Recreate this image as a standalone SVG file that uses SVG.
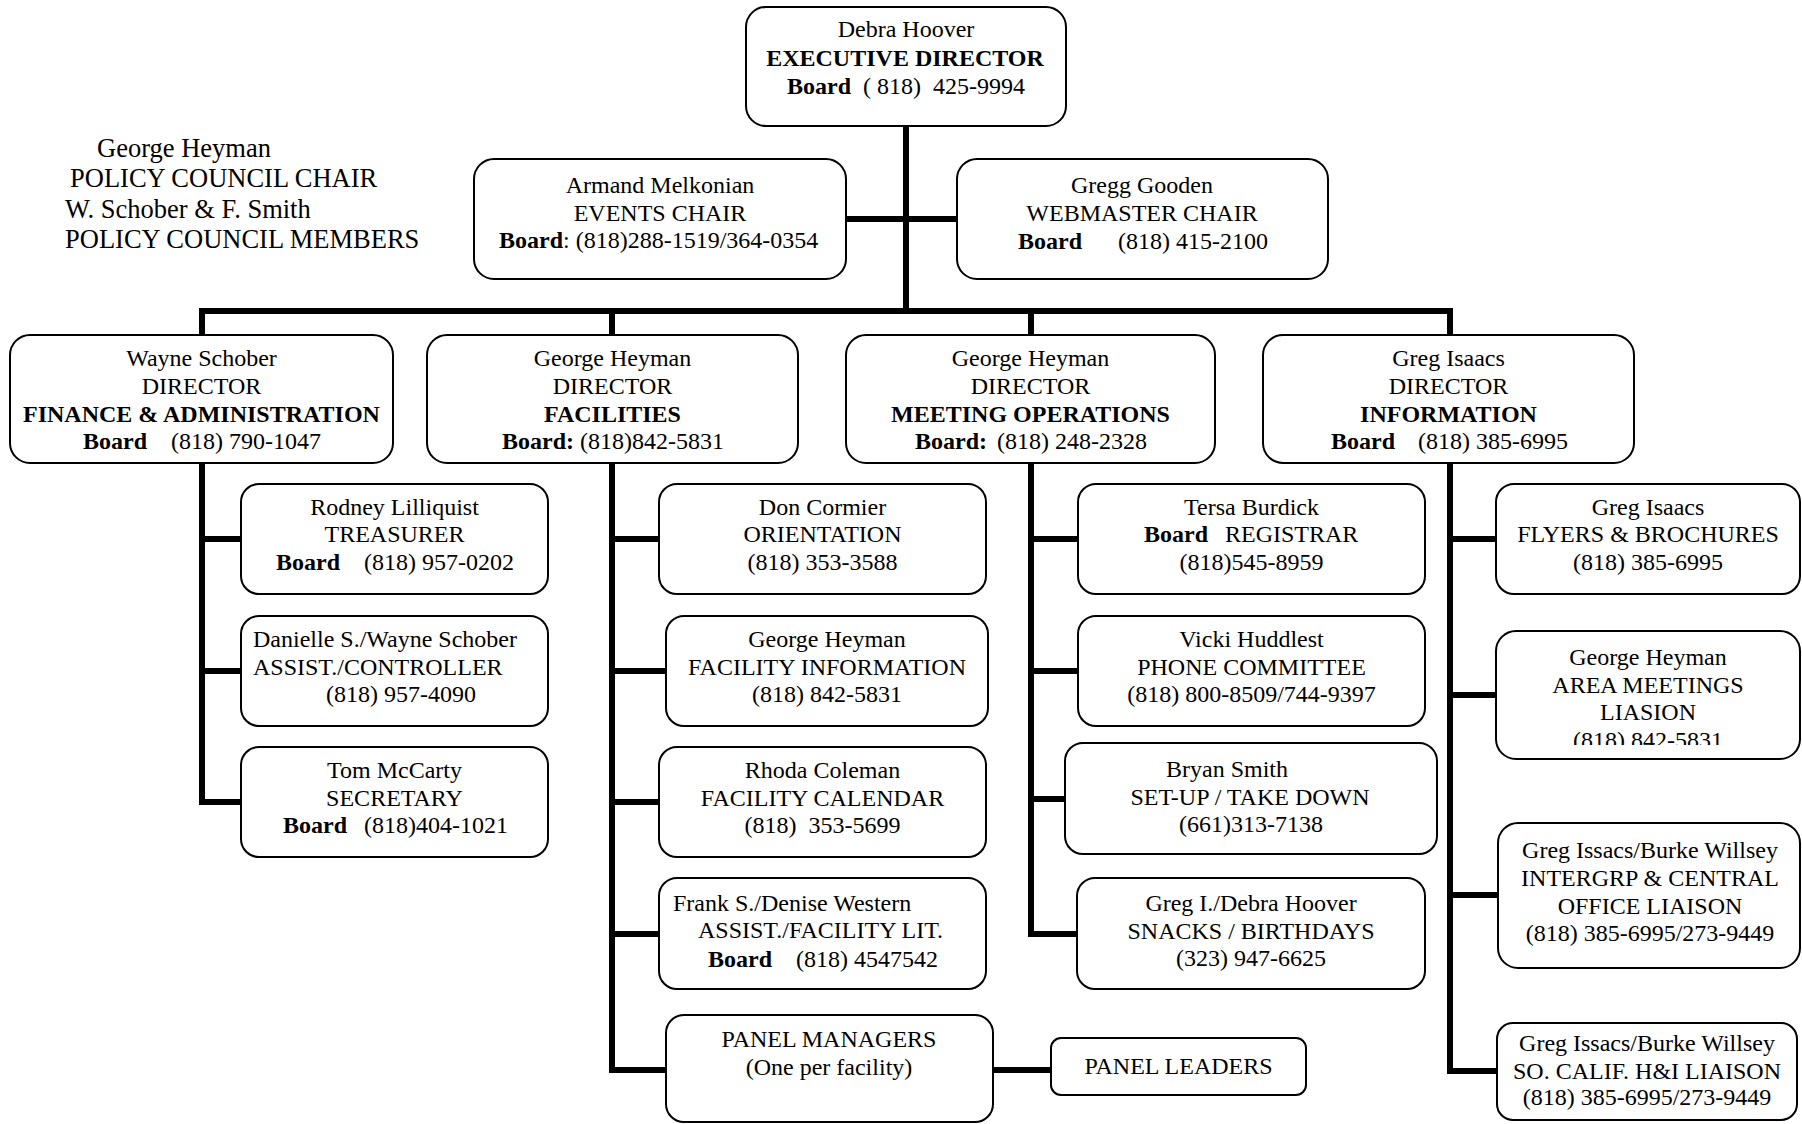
<svg xmlns="http://www.w3.org/2000/svg" width="1802" height="1124" viewBox="0 0 1802 1124">
<style>
text{font-family:"Liberation Serif","Times New Roman",serif;font-size:24px;fill:#000;white-space:pre}
.c{text-anchor:middle}
.b{font-weight:bold}
.lt{font-size:26.5px}
.box{fill:#fff;stroke:#000;stroke-width:2}
.conn{fill:none;stroke:#000;stroke-width:6;stroke-linejoin:miter;stroke-linecap:butt}
</style>
<defs>
<clipPath id="clipArea"><rect x="1496" y="631" width="306" height="114"/></clipPath>
</defs>

<g id="policy-council">
<text class="lt" x="97" y="157">George Heyman</text>
<text class="lt" x="70" y="187">POLICY COUNCIL CHAIR</text>
<text class="lt" x="65" y="218">W. Schober &amp; F. Smith</text>
<text class="lt" x="65" y="248">POLICY COUNCIL MEMBERS</text>
</g>

<g id="connectors">
<path class="conn" d="M906 126 V311"/>
<path class="conn" d="M846 219 H957"/>
<path class="conn" d="M202 335 V311 H1450 V335"/>
<path class="conn" d="M612 311 V335"/>
<path class="conn" d="M1031 311 V335"/>
<path class="conn" d="M202 463 V802 H241"/>
<path class="conn" d="M202 539 H241"/>
<path class="conn" d="M202 671 H241"/>
<path class="conn" d="M612 463 V1070 H666"/>
<path class="conn" d="M612 539 H659"/>
<path class="conn" d="M612 671 H666"/>
<path class="conn" d="M612 802 H659"/>
<path class="conn" d="M612 934 H659"/>
<path class="conn" d="M1031 463 V934 H1077"/>
<path class="conn" d="M1031 539 H1078"/>
<path class="conn" d="M1031 671 H1078"/>
<path class="conn" d="M1031 799 H1065"/>
<path class="conn" d="M1450 463 V1071 H1497"/>
<path class="conn" d="M1450 539 H1496"/>
<path class="conn" d="M1450 695 H1496"/>
<path class="conn" d="M1450 895 H1498"/>
<path class="conn" d="M993 1070 H1051"/>
</g>

<g id="executive-director">
<rect class="box" x="746" y="7" width="320" height="119" rx="20"/>
<text class="c" x="906" y="37">Debra Hoover</text>
<text class="c b" x="905" y="66">EXECUTIVE DIRECTOR</text>
<text y="94"><tspan class="b" x="787">Board</tspan><tspan x="863">( 818)  425-9994</tspan></text>
</g>

<g id="events-chair">
<rect class="box" x="474" y="159" width="372" height="120" rx="20"/>
<text class="c" x="660" y="193">Armand Melkonian</text>
<text class="c" x="660" y="221">EVENTS CHAIR</text>
<text x="499" y="248"><tspan class="b">Board</tspan>: (818)288-1519/364-0354</text>
</g>

<g id="webmaster-chair">
<rect class="box" x="957" y="159" width="371" height="120" rx="20"/>
<text class="c" x="1142" y="193">Gregg Gooden</text>
<text class="c" x="1142" y="221">WEBMASTER CHAIR</text>
<text y="249"><tspan class="b" x="1018">Board</tspan><tspan x="1118">(818) 415-2100</tspan></text>
</g>

<g id="director-finance">
<rect class="box" x="10" y="335" width="383" height="128" rx="20"/>
<text class="c" x="201.5" y="366">Wayne Schober</text>
<text class="c" x="201.5" y="394">DIRECTOR</text>
<text class="c b" x="201.5" y="422">FINANCE &amp; ADMINISTRATION</text>
<text y="449"><tspan class="b" x="83">Board</tspan><tspan x="171">(818) 790-1047</tspan></text>
</g>

<g id="director-facilities">
<rect class="box" x="427" y="335" width="371" height="128" rx="20"/>
<text class="c" x="612.5" y="366">George Heyman</text>
<text class="c" x="612.5" y="394">DIRECTOR</text>
<text class="c b" x="612.5" y="422">FACILITIES</text>
<text y="449"><tspan class="b" x="502">Board:</tspan><tspan x="580">(818)842-5831</tspan></text>
</g>

<g id="director-meetings">
<rect class="box" x="846" y="335" width="369" height="128" rx="20"/>
<text class="c" x="1030.5" y="366">George Heyman</text>
<text class="c" x="1030.5" y="394">DIRECTOR</text>
<text class="c b" x="1030.5" y="422">MEETING OPERATIONS</text>
<text y="449"><tspan class="b" x="915">Board:</tspan><tspan x="997">(818) 248-2328</tspan></text>
</g>

<g id="director-information">
<rect class="box" x="1263" y="335" width="371" height="128" rx="20"/>
<text class="c" x="1448.5" y="366">Greg Isaacs</text>
<text class="c" x="1448.5" y="394">DIRECTOR</text>
<text class="c b" x="1448.5" y="422">INFORMATION</text>
<text y="449"><tspan class="b" x="1331">Board</tspan><tspan x="1418">(818) 385-6995</tspan></text>
</g>

<g id="treasurer">
<rect class="box" x="241" y="484" width="307" height="110" rx="18"/>
<text class="c" x="394.5" y="515">Rodney Lilliquist</text>
<text class="c" x="394.5" y="542">TREASURER</text>
<text y="570"><tspan class="b" x="276">Board</tspan><tspan x="364">(818) 957-0202</tspan></text>
</g>

<g id="controller">
<rect class="box" x="241" y="616" width="307" height="110" rx="18"/>
<text x="253" y="647">Danielle S./Wayne Schober</text>
<text x="253" y="675">ASSIST./CONTROLLER</text>
<text x="326" y="702">(818) 957-4090</text>
</g>

<g id="secretary">
<rect class="box" x="241" y="747" width="307" height="110" rx="18"/>
<text class="c" x="394.5" y="778">Tom McCarty</text>
<text class="c" x="394.5" y="806">SECRETARY</text>
<text y="833"><tspan class="b" x="283">Board</tspan><tspan x="364">(818)404-1021</tspan></text>
</g>

<g id="orientation">
<rect class="box" x="659" y="484" width="327" height="110" rx="18"/>
<text class="c" x="822.5" y="515">Don Cormier</text>
<text class="c" x="822.5" y="542">ORIENTATION</text>
<text class="c" x="822.5" y="570">(818) 353-3588</text>
</g>

<g id="facility-information">
<rect class="box" x="666" y="616" width="322" height="110" rx="18"/>
<text class="c" x="827" y="647">George Heyman</text>
<text class="c" x="827" y="675">FACILITY INFORMATION</text>
<text class="c" x="827" y="702">(818) 842-5831</text>
</g>

<g id="facility-calendar">
<rect class="box" x="659" y="747" width="327" height="110" rx="18"/>
<text class="c" x="822.5" y="778">Rhoda Coleman</text>
<text class="c" x="822.5" y="806">FACILITY CALENDAR</text>
<text class="c" x="822.5" y="833">(818)  353-5699</text>
</g>

<g id="facility-lit">
<rect class="box" x="659" y="878" width="327" height="111" rx="18"/>
<text x="673" y="911">Frank S./Denise Western</text>
<text x="698" y="938">ASSIST./FACILITY LIT.</text>
<text y="967"><tspan class="b" x="708">Board</tspan><tspan x="796">(818) 4547542</tspan></text>
</g>

<g id="panel-managers">
<rect class="box" x="666" y="1015" width="327" height="107" rx="18"/>
<text class="c" x="829" y="1047">PANEL MANAGERS</text>
<text class="c" x="829" y="1075">(One per facility)</text>
</g>

<g id="panel-leaders">
<rect class="box" x="1051" y="1038" width="255" height="57" rx="10"/>
<text class="c" x="1178.5" y="1074">PANEL LEADERS</text>
</g>

<g id="registrar">
<rect class="box" x="1078" y="484" width="347" height="110" rx="18"/>
<text class="c" x="1251.5" y="515">Tersa Burdick</text>
<text y="542"><tspan class="b" x="1144">Board</tspan><tspan x="1225">REGISTRAR</tspan></text>
<text class="c" x="1251.5" y="570">(818)545-8959</text>
</g>

<g id="phone-committee">
<rect class="box" x="1078" y="616" width="347" height="110" rx="18"/>
<text class="c" x="1251.5" y="647">Vicki Huddlest</text>
<text class="c" x="1251.5" y="675">PHONE COMMITTEE</text>
<text class="c" x="1251.5" y="702">(818) 800-8509/744-9397</text>
</g>

<g id="setup-takedown">
<rect class="box" x="1065" y="743" width="372" height="111" rx="18"/>
<text x="1166" y="777">Bryan Smith</text>
<text class="c" x="1250" y="805">SET-UP / TAKE DOWN</text>
<text class="c" x="1251" y="832">(661)313-7138</text>
</g>

<g id="snacks-birthdays">
<rect class="box" x="1077" y="878" width="348" height="111" rx="18"/>
<text class="c" x="1251" y="911">Greg I./Debra Hoover</text>
<text class="c" x="1251" y="939">SNACKS / BIRTHDAYS</text>
<text class="c" x="1251" y="966">(323) 947-6625</text>
</g>

<g id="flyers-brochures">
<rect class="box" x="1496" y="484" width="304" height="110" rx="18"/>
<text class="c" x="1648" y="515">Greg Isaacs</text>
<text class="c" x="1648" y="542">FLYERS &amp; BROCHURES</text>
<text class="c" x="1648" y="570">(818) 385-6995</text>
</g>

<g id="area-meetings">
<rect class="box" x="1496" y="631" width="304" height="128" rx="20"/>
<g clip-path="url(#clipArea)">
<text class="c" x="1648" y="665">George Heyman</text>
<text class="c" x="1648" y="693">AREA MEETINGS</text>
<text class="c" x="1648" y="720">LIASION</text>
<text class="c" x="1648" y="748">(818) 842-5831</text>
</g>
</g>

<g id="intergroup-liaison">
<rect class="box" x="1498" y="823" width="302" height="145" rx="20"/>
<text class="c" x="1650" y="858">Greg Issacs/Burke Willsey</text>
<text class="c" x="1650" y="886">INTERGRP &amp; CENTRAL</text>
<text class="c" x="1650" y="914">OFFICE LIAISON</text>
<text class="c" x="1650" y="941">(818) 385-6995/273-9449</text>
</g>

<g id="hi-liaison">
<rect class="box" x="1497" y="1023" width="300" height="97" rx="16"/>
<text class="c" x="1647" y="1051">Greg Issacs/Burke Willsey</text>
<text class="c" x="1647" y="1079">SO. CALIF. H&amp;I LIAISON</text>
<text class="c" x="1647" y="1105">(818) 385-6995/273-9449</text>
</g>
</svg>
